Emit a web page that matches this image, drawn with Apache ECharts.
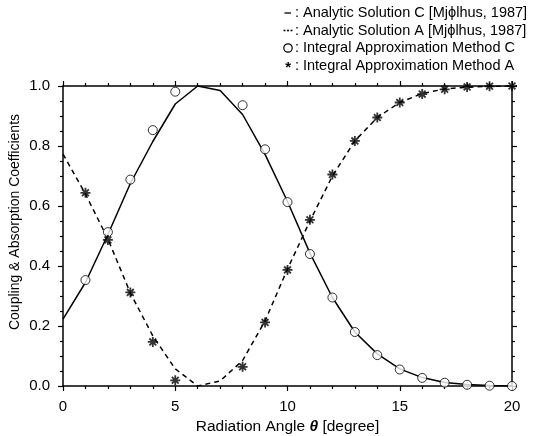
<!DOCTYPE html>
<html lang="en">
  <head>
    <meta charset="UTF-8" />
    <title>Coupling &amp; Absorption Coefficients</title>
    <script src="https://cdn.jsdelivr.net/npm/echarts@6.0.0/dist/echarts.min.js"></script>
    <style>
      html, body { margin: 0; padding: 0; background: #fff; }
    </style>
  </head>
  <body>
    <div id="main" style="width: 546px; height: 436px"></div>
    <script type="text/javascript">
      // radiation angle (degree)
      const angles = [0, 1, 2, 3, 4, 5, 6, 7, 8, 9, 10, 11, 12, 13, 14, 15, 16, 17, 18, 19, 20];
      // analytic solutions [Mjølhus, 1987]
      const analyticC = [0.223, 0.345, 0.505, 0.675, 0.815, 0.94, 1.0, 0.985, 0.905, 0.772, 0.615, 0.443, 0.295, 0.18, 0.107, 0.057, 0.028, 0.012, 0.005, 0.002, 0.0];
      const analyticA = [0.773, 0.64, 0.49, 0.31, 0.167, 0.057, 0.0, 0.017, 0.085, 0.217, 0.39, 0.55, 0.70, 0.817, 0.895, 0.945, 0.975, 0.99, 0.996, 0.999, 1.0];
      // integral approximation method (null = no point)
      const integralC = [null, 0.353, 0.513, 0.688, 0.853, 0.981, null, null, 0.936, 0.789, 0.613, 0.44, 0.295, 0.18, 0.103, 0.055, 0.027, 0.011, 0.004, 0.001, 0.0];
      const integralA = [null, 0.644, 0.487, 0.312, 0.147, 0.019, null, null, 0.064, 0.212, 0.387, 0.554, 0.705, 0.817, 0.895, 0.945, 0.973, 0.989, 0.997, 0.999, 1.0];
      const xTicks = [0, 5, 10, 15, 20];
      const yTicks = [0.0, 0.2, 0.4, 0.6, 0.8, 1.0];

      const legendTexts = [
        'Analytic Solution C [Mj\u03D5lhus, 1987]',
        'Analytic Solution A [Mj\u03D5lhus, 1987]',
        'Integral Approximation Method C',
        'Integral Approximation Method A',
      ];

      const FONT = '"Liberation Sans", Arial, sans-serif';
      const pairs = (ys) => angles.map((x, i) => [x, ys[i]]).filter((p) => p[1] !== null);
      const asterisk = 'path://M0,5L10,5M5,0L5,10M1.6,1.6L8.4,8.4M8.4,1.6L1.6,8.4';

      const container = document.getElementById('main');
      const myChart = echarts.init(container, null, { width: 546, height: 436 });

      const xAxisBase = {
        type: 'value',
        min: xTicks[0],
        max: xTicks[xTicks.length - 1],
        interval: 5,
        axisLine: { show: true, onZero: false, lineStyle: { color: '#000', width: 1.5 } },
        axisTick: { show: true, inside: false, length: 5, lineStyle: { color: '#000', width: 1.2 } },
        minorTick: { show: true, splitNumber: 5, length: 3, lineStyle: { color: '#000', width: 1.2 } },
        splitLine: { show: false },
      };
      const yAxisBase = {
        type: 'value',
        min: yTicks[0],
        max: yTicks[yTicks.length - 1],
        interval: 0.2,
        axisLine: { show: true, onZero: false, lineStyle: { color: '#000', width: 1.5 } },
        axisTick: { show: true, inside: false, length: 5, lineStyle: { color: '#000', width: 1.2 } },
        minorTick: { show: true, splitNumber: 4, length: 3, lineStyle: { color: '#000', width: 1.2 } },
        splitLine: { show: false },
      };

      // legend drawn as "mark : text" rows
      const legendY = [13, 30.5, 48, 65.5];
      const graphics = [
        {
          type: 'text',
          x: 15,
          y: 222,
          rotation: Math.PI / 2,
          style: {
            text: 'Coupling & Absorption Coefficients',
            font: '14px ' + FONT,
            fill: '#000',
            align: 'center',
            verticalAlign: 'middle',
          },
        },
        {
          type: 'line',
          shape: { x1: 284.5, y1: legendY[0], x2: 291, y2: legendY[0] },
          style: { stroke: '#000', lineWidth: 1.3 },
        },
        {
          type: 'line',
          shape: { x1: 283.5, y1: legendY[1], x2: 293, y2: legendY[1] },
          style: { stroke: '#000', lineWidth: 1.3, lineDash: [2, 1.5] },
        },
        {
          type: 'circle',
          shape: { cx: 288, cy: legendY[2], r: 4.2 },
          style: { stroke: '#000', fill: 'none', lineWidth: 1.2 },
        },
        {
          type: 'text',
          x: 291,
          y: legendY[3] + 2.5,
          style: { text: '*', font: 'bold 15px ' + FONT, fill: '#000', align: 'right', verticalAlign: 'middle' },
        },
      ];
      legendTexts.forEach((text, i) => {
        graphics.push({
          type: 'text',
          x: 297,
          y: legendY[i],
          style: { text: ':', font: '14.5px ' + FONT, fill: '#000', align: 'center', verticalAlign: 'middle' },
        });
        graphics.push({
          type: 'text',
          x: 303,
          y: legendY[i],
          style: { text: text, font: '14.5px ' + FONT, fill: '#000', align: 'left', verticalAlign: 'middle' },
        });
      });

      const option = {
        backgroundColor: '#fff',
        animation: false,
        textStyle: { fontFamily: FONT, color: '#000' },
        grid: { left: 63, right: 34, top: 86, bottom: 50, containLabel: false, outerBoundsMode: 'none' },
        xAxis: [
          Object.assign({}, xAxisBase, {
            position: 'bottom',
            axisLabel: { show: true, margin: 13, fontSize: 15, color: '#000', fontFamily: FONT },
            name: '{n|Radiation Angle }{t|\u03B8}{n| [degree]}',
            nameLocation: 'middle',
            nameGap: 32,
            nameTextStyle: {
              rich: {
                n: { fontSize: 15.5, fontFamily: FONT, color: '#000' },
                t: { fontSize: 15.5, fontFamily: FONT, color: '#000', fontWeight: 'bold', fontStyle: 'italic' },
              },
            },
          }),
          Object.assign({}, xAxisBase, { position: 'top', axisLabel: { show: false } }),
        ],
        yAxis: [
          Object.assign({}, yAxisBase, {
            position: 'left',
            axisLabel: {
              show: true,
              margin: 13,
              fontSize: 15,
              color: '#000',
              fontFamily: FONT,
              formatter: (v) => v.toFixed(1),
            },
          }),
          Object.assign({}, yAxisBase, { position: 'right', axisLabel: { show: false } }),
        ],
        graphic: graphics,
        series: [
          {
            name: 'Analytic Solution C',
            type: 'line',
            data: pairs(analyticC),
            showSymbol: false,
            symbol: 'none',
            lineStyle: { color: '#000', width: 1.5, type: 'solid' },
            z: 3,
          },
          {
            name: 'Analytic Solution A',
            type: 'line',
            data: pairs(analyticA),
            showSymbol: false,
            symbol: 'none',
            lineStyle: { color: '#000', width: 1.5, type: [5, 4] },
            z: 3,
          },
          {
            name: 'Integral Approximation Method C',
            type: 'scatter',
            data: pairs(integralC),
            symbol: 'circle',
            symbolSize: 9,
            itemStyle: { color: '#fff', borderColor: '#000', borderWidth: 1 },
            z: 4,
          },
          {
            name: 'Integral Approximation Method A',
            type: 'scatter',
            data: pairs(integralA),
            symbol: asterisk,
            symbolSize: 10,
            itemStyle: { color: 'none', borderColor: '#000', borderWidth: 1.8 },
            z: 5,
          },
        ],
      };

      myChart.setOption(option);
    </script>
  </body>
</html>
